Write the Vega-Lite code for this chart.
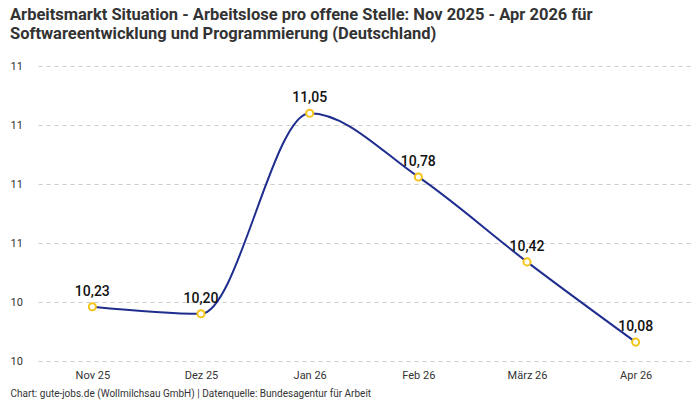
{
  "$schema": "https://vega.github.io/schema/vega-lite/v6.json",
  "width": 652,
  "height": 295,
  "autosize": {"type": "none"},
  "padding": {"left": 38, "top": 66, "right": 10, "bottom": 39},
  "background": "white",
  "title": {
    "text": ["Arbeitsmarkt Situation - Arbeitslose pro offene Stelle: Nov 2025 - Apr 2026 für", "Softwareentwicklung und Programmierung (Deutschland)"],
    "anchor": "start",
    "frame": "group",
    "dx": -28,
    "offset": 18,
    "font": "Roboto",
    "fontSize": 16.5,
    "fontWeight": "bold",
    "lineHeight": 19,
    "color": "#333333"
  },
  "data": {
    "values": [
      {"monat": "Nov 25", "wert": 10.23},
      {"monat": "Dez 25", "wert": 10.20},
      {"monat": "Jan 26", "wert": 11.05},
      {"monat": "Feb 26", "wert": 10.78},
      {"monat": "März 26", "wert": 10.42},
      {"monat": "Apr 26", "wert": 10.08}
    ]
  },
  "encoding": {
    "x": {
      "field": "monat",
      "type": "ordinal",
      "sort": null,
      "scale": {"type": "point", "padding": 0.5},
      "axis": {
        "title": "Chart: gute-jobs.de (Wollmilchsau GmbH) | Datenquelle: Bundesagentur für Arbeit",
        "titleAnchor": "start",
        "titleX": -28,
        "titlePadding": 8,
        "titleFontSize": 10,
        "titleFontWeight": "normal",
        "titleColor": "#333333",
        "labelAngle": 0,
        "labelPadding": 8,
        "ticks": false,
        "domain": false,
        "grid": false
      }
    },
    "y": {
      "field": "wert",
      "type": "quantitative",
      "scale": {"domain": [10, 11.25], "zero": false, "nice": false},
      "axis": {
        "title": null,
        "values": [10, 10.25, 10.5, 10.75, 11, 11.25],
        "format": ".0f",
        "labelOverlap": false,
        "ticks": false,
        "domain": false,
        "labelPadding": 28,
        "labelAlign": "left",
        "grid": true,
        "gridDash": [4, 4],
        "gridColor": "#cccccc"
      }
    }
  },
  "layer": [
    {
      "mark": {"type": "line", "interpolate": "monotone", "color": "#1f2d8f", "strokeWidth": 2}
    },
    {
      "mark": {"type": "point", "shape": "circle", "size": 50, "filled": true, "fill": "white", "stroke": "#f5c518", "strokeWidth": 2, "opacity": 1}
    },
    {
      "mark": {"type": "text", "dy": -15, "font": "Roboto", "fontSize": 14, "fontWeight": 500, "color": "#111111"},
      "encoding": {"text": {"field": "wert", "type": "quantitative", "format": ".2f"}}
    }
  ],
  "config": {
    "locale": {
      "number": {"decimal": ",", "thousands": ".", "grouping": [3], "currency": ["", " €"]}
    },
    "view": {"stroke": null},
    "axis": {"labelFont": "Roboto", "labelFontSize": 11, "labelColor": "#333333", "titleFont": "Roboto"}
  }
}
